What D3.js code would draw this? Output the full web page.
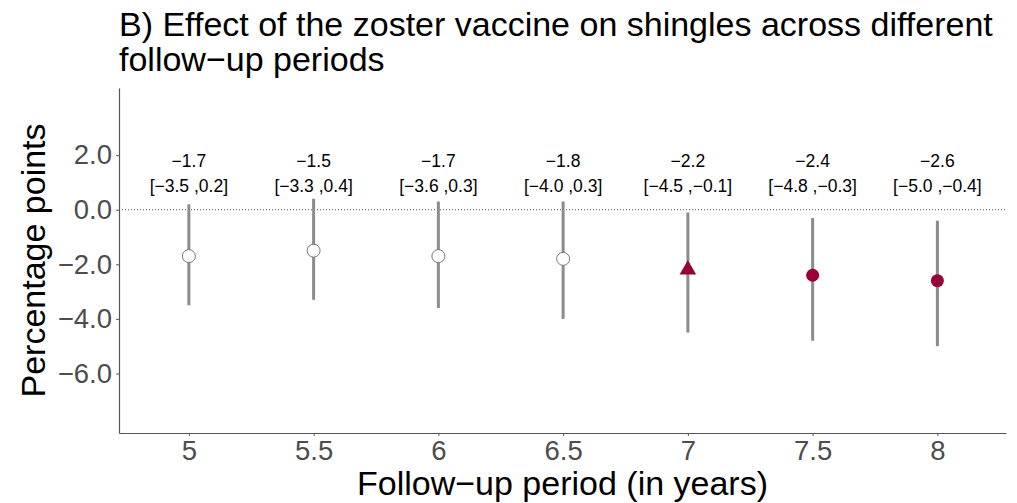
<!DOCTYPE html>
<html>
<head>
<meta charset="utf-8">
<script src="https://cdn.jsdelivr.net/npm/d3@7"></script>
<style>
  body { margin: 0; background: #fff; }
  text { font-family: "Liberation Sans", Arial, Helvetica, sans-serif; }
</style>
</head>
<body>
<div id="chart"></div>
<script>
// follow-up periods (years) and estimates in percentage points
const periods = [5, 5.5, 6, 6.5, 7, 7.5, 8];
const estimates = [-1.7, -1.5, -1.7, -1.8, -2.2, -2.4, -2.6];
const lower = [-3.5, -3.3, -3.6, -4.0, -4.5, -4.8, -5.0];
const upper = [0.2, 0.4, 0.3, 0.3, -0.1, -0.3, -0.4];
const shapes = ["open", "open", "open", "open", "triangle", "dot", "dot"];
const yTicks = [2, 0, -2, -4, -6];
const xTicks = [5, 5.5, 6, 6.5, 7, 7.5, 8];

const width = 1017;
const height = 503;
const margin = { left: 119, right: 11, top: 88, bottom: 70 };

const svg = d3.select("#chart")
  .append("svg")
  .attr("width", width)
  .attr("height", height);

const xScale = d3.scaleLinear().domain([4.72, 8.275]).range([margin.left, width - margin.right]);
const yScale = d3.scaleLinear().domain([-8.18, 4.46]).range([height - margin.bottom, margin.top]);

const fmtMinus = s => s.replace(/-/g, "\u2212");

// title
svg.append("text")
  .attr("x", margin.left)
  .attr("y", 36)
  .attr("font-size", 34)
  .text("B) Effect of the zoster vaccine on shingles across different");
svg.append("text")
  .attr("x", margin.left)
  .attr("y", 71)
  .attr("font-size", 34)
  .text("follow\u2212up periods");

// axes
const xAxis = d3.axisBottom(xScale).tickValues(xTicks).tickSize(3).tickSizeOuter(0).tickPadding(4)
  .tickFormat(d => String(d));
const yAxis = d3.axisLeft(yScale).tickValues(yTicks).tickSize(3).tickSizeOuter(0).tickPadding(4)
  .tickFormat(d => fmtMinus(d.toFixed(1)));

const gx = svg.append("g")
  .attr("transform", `translate(0, ${height - margin.bottom})`)
  .call(xAxis);
const gy = svg.append("g")
  .attr("transform", `translate(${margin.left}, 0)`)
  .call(yAxis);

[gx, gy].forEach(g => {
  g.select(".domain").attr("stroke", "#555").attr("stroke-width", 1.2);
  g.selectAll(".tick line").attr("stroke", "#555");
  g.selectAll(".tick text")
    .attr("fill", "#4d4d4d")
    .attr("font-size", 27.5)
    .style("font-family", "'Liberation Sans', Arial, sans-serif");
});

// axis titles
svg.append("text")
  .attr("x", (margin.left + width - margin.right) / 2)
  .attr("y", 495)
  .attr("text-anchor", "middle")
  .attr("font-size", 34)
  .text("Follow\u2212up period (in years)");
svg.append("text")
  .attr("transform", `translate(45, ${(margin.top + height - margin.bottom) / 2}) rotate(-90)`)
  .attr("text-anchor", "middle")
  .attr("font-size", 34)
  .text("Percentage points");

// zero reference line
svg.append("line")
  .attr("x1", margin.left)
  .attr("x2", width - margin.right)
  .attr("y1", yScale(0))
  .attr("y2", yScale(0))
  .attr("stroke", "#555")
  .attr("stroke-width", 1)
  .attr("stroke-dasharray", "1,2");

const data = periods.map((p, i) => ({
  p, est: estimates[i], lo: lower[i], hi: upper[i], shape: shapes[i]
}));

// error bars
svg.append("g").selectAll("line")
  .data(data)
  .enter().append("line")
  .attr("x1", d => xScale(d.p))
  .attr("x2", d => xScale(d.p))
  .attr("y1", d => yScale(d.lo))
  .attr("y2", d => yScale(d.hi))
  .attr("stroke", "#8c8c8c")
  .attr("stroke-width", 3);

// points
const red = "#990036";
const pts = svg.append("g");
data.forEach(d => {
  const cx = xScale(d.p), cy = yScale(d.est);
  if (d.shape === "open") {
    pts.append("circle").attr("cx", cx).attr("cy", cy).attr("r", 6.5)
      .attr("fill", "#fff").attr("stroke", "#777").attr("stroke-width", 1);
  } else if (d.shape === "dot") {
    pts.append("circle").attr("cx", cx).attr("cy", cy).attr("r", 6.5)
      .attr("fill", red);
  } else {
    pts.append("path")
      .attr("d", d3.symbol().type(d3.symbolTriangle).size(120)())
      .attr("transform", `translate(${cx}, ${cy})`)
      .attr("fill", red);
  }
});

// labels
const labels = svg.append("g");
data.forEach(d => {
  labels.append("text")
    .attr("x", xScale(d.p))
    .attr("y", yScale(1.8))
    .attr("dy", "0.35em")
    .attr("text-anchor", "middle")
    .attr("font-size", 17.5)
    .text(fmtMinus(d.est.toFixed(1)));
  labels.append("text")
    .attr("x", xScale(d.p))
    .attr("y", yScale(0.87))
    .attr("dy", "0.35em")
    .attr("text-anchor", "middle")
    .attr("font-size", 17.5)
    .text(fmtMinus(`[${d.lo.toFixed(1)} ,${d.hi.toFixed(1)}]`));
});
</script>
</body>
</html>
